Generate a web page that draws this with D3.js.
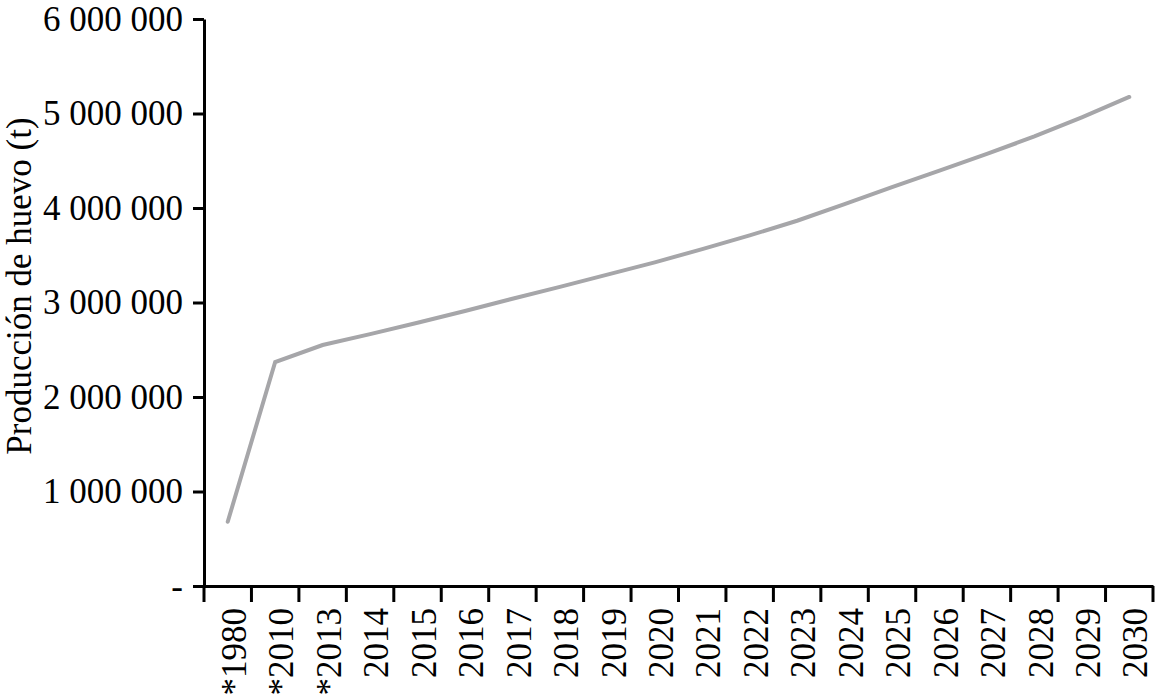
<!DOCTYPE html>
<html>
<head>
<meta charset="utf-8">
<script src="https://cdn.jsdelivr.net/npm/d3@7"></script>
<style>
  body { margin: 0; background: #fff; }
  text { font-family: "Liberation Serif", "Times New Roman", serif; fill: #000; }
</style>
</head>
<body>
<div id="chart"></div>
<script>
const years = ["*1980", "*2010", "*2013", "2014", "2015", "2016", "2017", "2018", "2019", "2020",
    "2021", "2022", "2023", "2024", "2025", "2026", "2027", "2028", "2029", "2030"];
const produccion = [680000, 2370000, 2550000, 2665000, 2785000, 2910000, 3040000, 3165000, 3295000, 3425000,
    3565000, 3710000, 3865000, 4040000, 4222000, 4395000, 4572000, 4757000, 4960000, 5175000];
const yTicks = [0, 1000000, 2000000, 3000000, 4000000, 5000000, 6000000];

const margin = { top: 19, right: 8, bottom: 112, left: 204 };
const W = 1161, H = 698;
const width = W - margin.left - margin.right;
const height = H - margin.top - margin.bottom;

const svg = d3.select("#chart")
    .append("svg")
    .attr("width", W)
    .attr("height", H)
    .append("g")
    .attr("transform", `translate(${margin.left},${margin.top})`);

const xScale = d3.scaleBand()
    .domain(years)
    .range([0, width])
    .padding(0);

const yScale = d3.scaleLinear()
    .domain([0, 6000000])
    .range([height, 0]);

const fmt = d => d === 0 ? "-" : d3.format(",")(d).replace(/,/g, " ");

// y axis
const yAxis = svg.append("g")
    .attr("class", "y-axis")
    .call(d3.axisLeft(yScale).tickValues(yTicks).tickFormat(fmt).tickSize(11).tickSizeOuter(0).tickPadding(10));
yAxis.selectAll("path, line").attr("stroke", "#000").attr("stroke-width", 3);
yAxis.selectAll("text").style("font-size", "35px");

// x axis: labels centred in bands, ticks on band edges
const xAxis = svg.append("g")
    .attr("class", "x-axis")
    .attr("transform", `translate(0, ${height})`)
    .call(d3.axisBottom(xScale).tickSize(0).tickSizeOuter(0));
xAxis.select("path").attr("stroke", "#000").attr("stroke-width", 3);
xAxis.selectAll("text")
    .style("font-size", "35px")
    .style("text-anchor", "end")
    .attr("transform", "rotate(-90)")
    .attr("x", -22)
    .attr("y", 0)
    .attr("dy", "0.52em");

const edges = years.map(d => xScale(d)).concat([xScale.range()[1]]);
xAxis.selectAll(".edge")
    .data(edges)
    .join("line")
    .attr("class", "edge")
    .attr("x1", d => d).attr("x2", d => d)
    .attr("y1", 0).attr("y2", 16)
    .attr("stroke", "#000")
    .attr("stroke-width", 3);

// title
svg.append("text")
    .attr("transform", `translate(${31 - margin.left}, ${286 - margin.top}) rotate(-90)`)
    .style("text-anchor", "middle")
    .style("font-size", "35px")
    .text("Producción de huevo (t)");

// line
const line = d3.line()
    .x((d, i) => xScale(years[i]) + xScale.bandwidth() / 2)
    .y(d => yScale(d));

svg.append("path")
    .datum(produccion)
    .attr("fill", "none")
    .attr("stroke", "#a6a6a9")
    .attr("stroke-width", 4)
    .attr("stroke-linecap", "round")
    .attr("d", line);
</script>
</body>
</html>
